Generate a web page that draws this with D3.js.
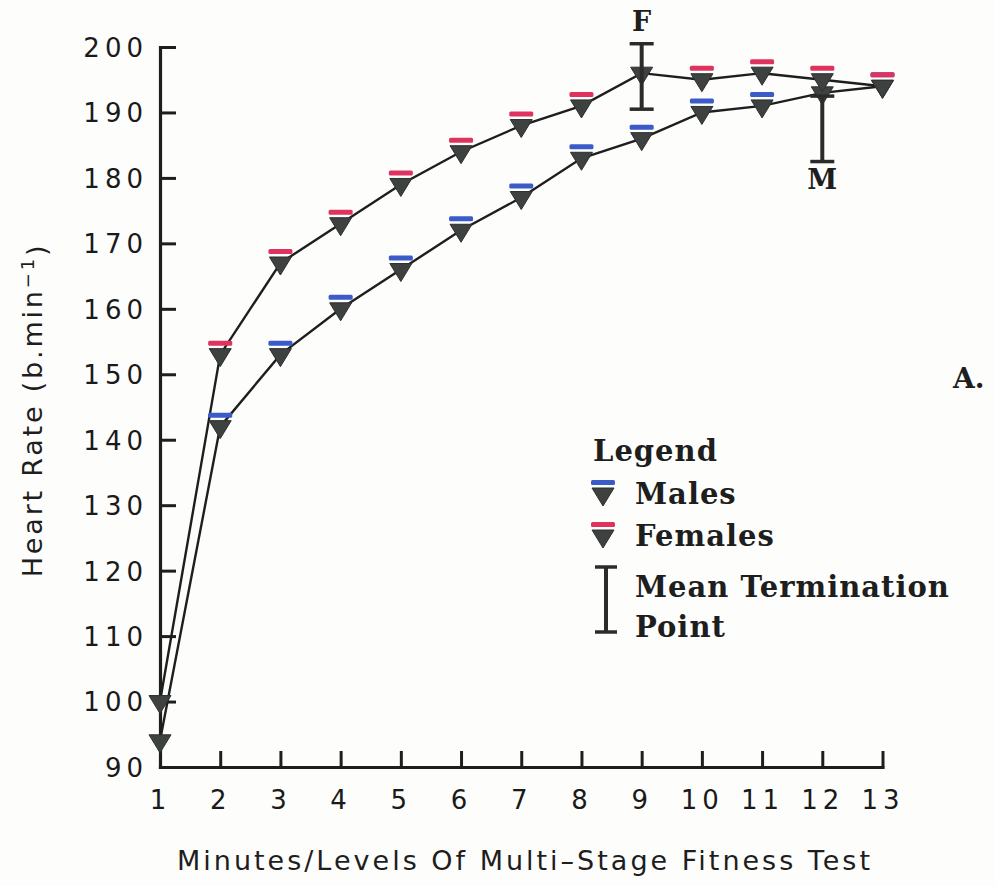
<!DOCTYPE html>
<html>
<head>
<meta charset="utf-8">
<script src="https://cdn.jsdelivr.net/npm/d3@7"></script>
<style>
  html, body { margin: 0; padding: 0; background: #fdfdfc; }
  svg { display: block; }
  .tick text { font-family: "DejaVu Sans", sans-serif; font-size: 26px; fill: #1a1a1a; letter-spacing: 5px; }
  .slab { font-family: "DejaVu Serif", serif; font-weight: bold; fill: #1e1e1e; }
</style>
</head>
<body>
<svg id="chart" width="995" height="886"></svg>
<script>
// Minutes / levels of the multi-stage fitness test
const levels = [1, 2, 3, 4, 5, 6, 7, 8, 9, 10, 11, 12, 13];

// Mean heart rate (b.min-1) at each level
const femalesHR = [100, 153, 167, 173, 179, 184, 188, 191, 196, 195, 196, 195, 194];
const malesHR   = [94, 142, 153, 160, 166, 172, 177, 183, 186, 190, 191, 193, 194];

// Axis ticks
const yTicks = [90, 100, 110, 120, 130, 140, 150, 160, 170, 180, 190, 200];
const xTicks = levels;

// Mean termination points (level, low, high, label)
const terminationLevels = [9, 12];
const terminationLow    = [190.5, 182.5];
const terminationHigh   = [200.5, 192.5];
const terminationLabels = ["F", "M"];

// Legend entries
const legendNames  = ["Males", "Females"];
const legendColors = ["#3b5bc9", "#e0325f"];

const svg = d3.select("#chart");

const x = d3.scaleLinear().domain([1, 13]).range([160, 882.5]);
const y = d3.scaleLinear().domain([90, 200]).range([767, 47]);

const ink = "#1e1e1e";
const markerFill = "#3d413f";

// Axes: ticks point into the plot
const yAxis = d3.axisLeft(y).tickValues(yTicks).tickSizeInner(-16).tickSizeOuter(0).tickPadding(12);
const xAxis = d3.axisBottom(x).tickValues(xTicks).tickSizeInner(-16).tickSizeOuter(0).tickPadding(24);

const gy = svg.append("g").attr("transform", `translate(${x(1)},0)`).call(yAxis);
const gx = svg.append("g").attr("transform", `translate(0,${y(90)})`).call(xAxis);

[gx, gy].forEach(g => {
  g.select(".domain").attr("stroke", ink).attr("stroke-width", 3.2).attr("stroke-linecap", "square");
  g.selectAll(".tick line").attr("stroke", ink).attr("stroke-width", 3);
});
gy.selectAll(".tick").filter(d => d === 90).select("line").remove();
gx.selectAll(".tick").filter(d => d === 1).select("line").remove();
gy.selectAll(".tick text").attr("dy", "0.36em");

// Axis titles
svg.append("text")
  .attr("x", 525).attr("y", 870)
  .attr("text-anchor", "middle")
  .style("font-family", "'DejaVu Sans', sans-serif")
  .style("font-size", "27px")
  .style("letter-spacing", "3px")
  .attr("fill", ink)
  .text("Minutes/Levels Of Multi\u2013Stage Fitness Test");

const yTitle = svg.append("text")
  .attr("transform", "translate(42,410) rotate(-90)")
  .attr("text-anchor", "middle")
  .style("font-family", "'DejaVu Sans', sans-serif")
  .style("font-size", "27px")
  .style("letter-spacing", "2.8px")
  .attr("fill", ink);
yTitle.append("tspan").text("Heart Rate (b.min");
yTitle.append("tspan").attr("dy", "-0.45em").style("font-size", "18px").text("\u22121");
yTitle.append("tspan").attr("dy", "0.45em").text(")");

// Series lines
const line = d3.line().x((d, i) => x(levels[i])).y(d => y(d));
[malesHR, femalesHR].forEach(series => {
  svg.append("path")
    .datum(series)
    .attr("d", line)
    .attr("fill", "none")
    .attr("stroke", ink)
    .attr("stroke-width", 2.4);
});

// Mean termination bars
function drawTermBar(g, cx, yLow, yHigh, capHalf) {
  g.append("line").attr("x1", cx).attr("x2", cx).attr("y1", yLow).attr("y2", yHigh)
    .attr("stroke", "#2b2b2b").attr("stroke-width", 4);
  [yLow, yHigh].forEach(yy => {
    g.append("line").attr("x1", cx - capHalf).attr("x2", cx + capHalf).attr("y1", yy).attr("y2", yy)
      .attr("stroke", "#2b2b2b").attr("stroke-width", 3.5);
  });
}

// Triangle marker, optionally topped by a coloured bar
function drawMarker(g, cx, cy, color) {
  if (color) {
    g.append("rect")
      .attr("x", cx - 12).attr("y", cy - 14).attr("width", 24).attr("height", 5)
      .attr("rx", 1.5)
      .attr("fill", color);
  }
  g.append("path")
    .attr("d", `M${cx - 11},${cy - 6} L${cx + 11},${cy - 6} L${cx},${cy + 12} Z`)
    .attr("fill", markerFill)
    .attr("stroke", "#2e302f")
    .attr("stroke-width", 1);
}

// Starting points sit on the axis and carry no colour bar; neither does the
// point where each group's termination bar is drawn.
const maleTerm = terminationLevels[1], femaleTerm = terminationLevels[0];
const markersG = svg.append("g");
malesHR.forEach((v, i) => drawMarker(markersG, x(levels[i]), y(v),
  (i === 0 || levels[i] === maleTerm) ? null : legendColors[0]));
femalesHR.forEach((v, i) => drawMarker(markersG, x(levels[i]), y(v),
  (i === 0 || levels[i] === femaleTerm) ? null : legendColors[1]));

const termG = svg.append("g");
terminationLevels.forEach((lv, i) => {
  drawTermBar(termG, x(lv), y(terminationLow[i]), y(terminationHigh[i]), 12);
});

// Labels for termination bars
svg.append("text").attr("class", "slab")
  .attr("x", x(terminationLevels[0])).attr("y", 31)
  .attr("text-anchor", "middle").style("font-size", "27px")
  .text(terminationLabels[0]);
svg.append("text").attr("class", "slab")
  .attr("x", x(terminationLevels[1])).attr("y", 189)
  .attr("text-anchor", "middle").style("font-size", "27px")
  .text(terminationLabels[1]);

// Panel letter
svg.append("text").attr("class", "slab")
  .attr("x", 953).attr("y", 388).style("font-size", "28px")
  .text("A.");

// Legend
const lg = svg.append("g");
lg.append("text").attr("class", "slab")
  .attr("x", 593).attr("y", 461).style("font-size", "29px").style("letter-spacing", "1px")
  .text("Legend");
legendNames.forEach((name, i) => {
  const ly = 494 + i * 42;
  drawMarker(lg, 603, ly, legendColors[i]);
  lg.append("text").attr("class", "slab")
    .attr("x", 635).attr("y", ly + 10).style("font-size", "29px").style("letter-spacing", "1px")
    .text(name);
});
drawTermBar(lg, 606, 567, 632, 11);
lg.append("text").attr("class", "slab")
  .attr("x", 635).attr("y", 597).style("font-size", "29px").style("letter-spacing", "1px")
  .text("Mean Termination");
lg.append("text").attr("class", "slab")
  .attr("x", 635).attr("y", 637).style("font-size", "29px").style("letter-spacing", "1px")
  .text("Point");
</script>
</body>
</html>
